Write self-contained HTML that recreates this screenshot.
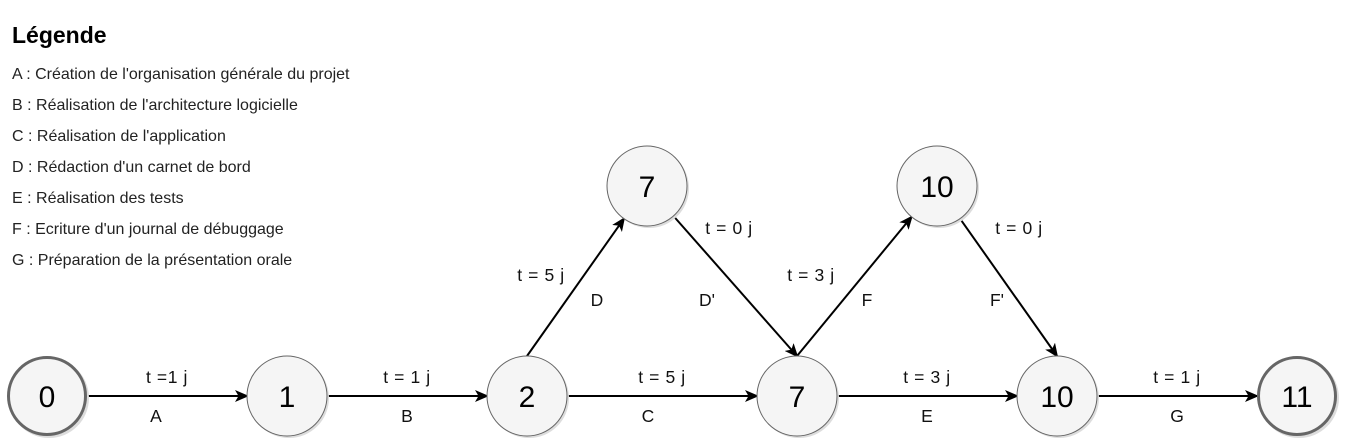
<!DOCTYPE html>
<html><head><meta charset="utf-8"><style>
html,body{margin:0;padding:0;background:#fff;}
svg{display:block;font-family:"Liberation Sans",Arial,sans-serif;}
</style></head><body>
<svg id="g" width="1346" height="445" viewBox="0 0 1346 445" xmlns="http://www.w3.org/2000/svg">
<defs>
<marker id="ah" markerWidth="14" markerHeight="12" refX="12" refY="6" orient="auto" markerUnits="userSpaceOnUse">
<path d="M0,0 L14,6 L0,12 L3.5,6 Z" fill="#000"/>
</marker>
</defs>
<g>
<text x="12" y="43" font-size="23" font-weight="bold" fill="#000">Légende</text>
<g id="leg" font-size="16" fill="#222"></g>
</g>
<g id="edges"></g>
<g id="nodes"></g>
</svg>
<script>
const legendItems = ["A : Création de l'organisation générale du projet","B : Réalisation de l'architecture logicielle","C : Réalisation de l'application","D : Rédaction d'un carnet de bord","E : Réalisation des tests","F : Ecriture d'un journal de débuggage","G : Préparation de la présentation orale"];
const nodeLabels = ["0","1","2","7","7","10","10","11"];
const nodeX = [47,287,527,647,797,937,1057,1297];
const nodeY = [396,396,396,186,396,186,396,396];
const nodeEnds = [true,false,false,false,false,false,false,true];
const edgeFrom = [0,1,2,2,3,4,4,5,6];
const edgeTo = [1,2,4,3,4,6,5,6,7];
const edgeNames = ["A","B","C","D","D'","E","F","F'","G"];
const edgeDur = ["t =1 j","t = 1 j","t = 5 j","t = 5 j","t = 0 j","t = 3 j","t = 3 j","t = 0 j","t = 1 j"];
const NS="http://www.w3.org/2000/svg", R=40;
function mk(t,a,p){const e=document.createElementNS(NS,t);for(const k in a)e.setAttribute(k,a[k]);p.appendChild(e);return e;}
const leg=document.getElementById('leg');
legendItems.forEach((s,i)=>{const t=mk('text',{x:12,y:79+i*31},leg);t.textContent=s;

});
const eg=document.getElementById('edges');
edgeFrom.forEach((f,i)=>{
const to=edgeTo[i];const x1=nodeX[f],y1=nodeY[f],x2=nodeX[to],y2=nodeY[to];
let sx,sy,ex,ey,tx,ty,nx,ny;
if(y1===y2){sx=x1+R;sy=y1;ex=x2-R;ey=y2;const mx=(x1+x2)/2;tx=mx;ty=y1-13;nx=mx-(i===0?11:(i===2?14:0));ny=y1+26;}
else if(y2<y1){sx=x1;sy=y1-R;const dx=sx-x2,dy=sy-y2,L=Math.hypot(dx,dy);ex=x2+dx/L*R;ey=y2+dy/L*R;tx=x1+14;ty=y1-115;nx=x1+70;ny=y1-90;}
else{ex=x2;ey=y2-R;const dx=ex-x1,dy=ey-y1,L=Math.hypot(dx,dy);sx=x1+dx/L*R;sy=y1+dy/L*R;tx=x1+82;ty=y1+48;nx=x1+60;ny=y1+120;}
const g=mk('g',{},eg);


mk('line',{x1:sx,y1:sy,x2:ex,y2:ey,stroke:'#000','stroke-width':2,'marker-end':'url(#ah)'},g);
const t1=mk('text',{x:tx,y:ty,'font-size':17.5,'letter-spacing':0.6,'text-anchor':'middle',fill:'#111'},g);t1.textContent=edgeDur[i];


const t2=mk('text',{x:nx,y:ny,'font-size':17.5,'text-anchor':'middle',fill:'#111'},g);t2.textContent=edgeNames[i];


});
const ng=document.getElementById('nodes');
nodeLabels.forEach((s,i)=>{
const g=mk('g',{},ng);


mk('circle',{cx:nodeX[i]+2,cy:nodeY[i]+2,r:R,fill:'#ddd'},g);
mk('circle',{cx:nodeX[i],cy:nodeY[i],r:nodeEnds[i]?38.5:R,fill:'#f5f5f5',stroke:'#666','stroke-width':nodeEnds[i]?3:1},g);
const t=mk('text',{x:nodeX[i],y:nodeY[i]+11,'font-size':30,'text-anchor':'middle',fill:'#000'},g);t.textContent=s;


});
</script>
</body></html>
